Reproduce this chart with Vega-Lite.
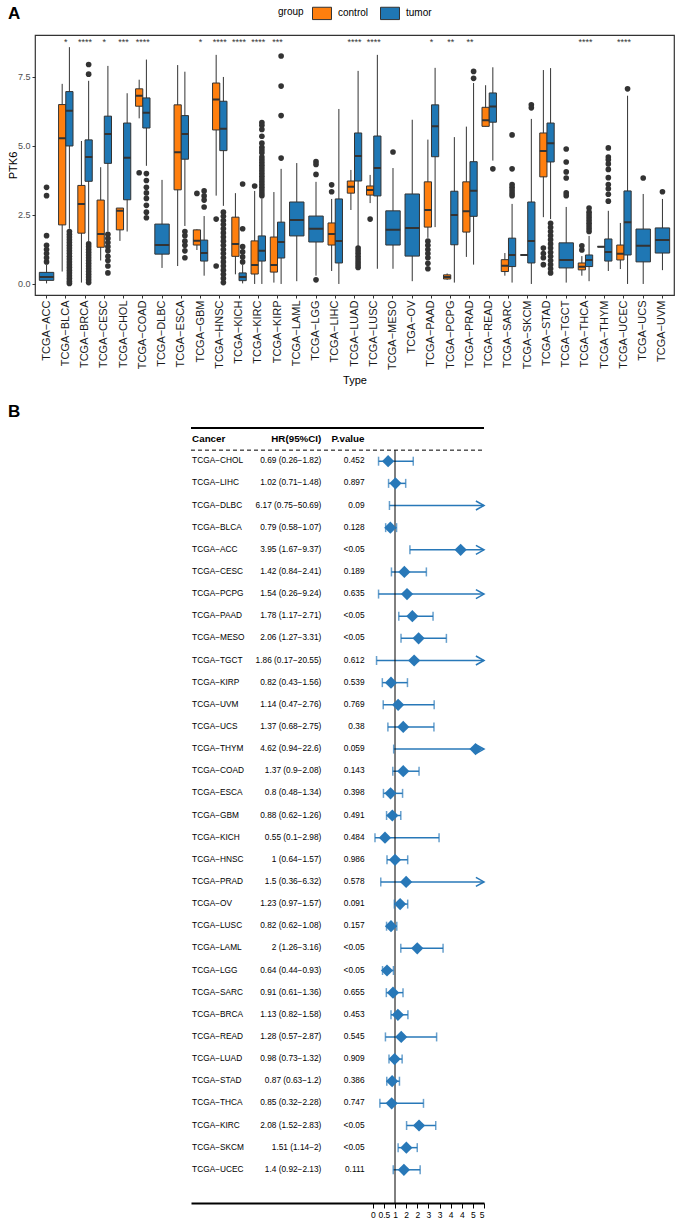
{
  "$schema": "https://vega.github.io/schema/vega-lite/v6.json",
  "padding": {"left": 6, "top": 3, "right": 0, "bottom": 0},
  "spacing": 16,
  "config": {
    "font": "Liberation Sans",
    "view": {"stroke": null},
    "axis": {"grid": false}
  },
  "datasets": {
    "boxes": [
      {"type":"TCGA−ACC","group":"tumor","lo":0.02,"q1":0.13,"med":0.25,"q3":0.42,"hi":0.7},
      {"type":"TCGA−BLCA","group":"control","lo":0.45,"q1":2.14,"med":5.28,"q3":6.5,"hi":7.25},
      {"type":"TCGA−BLCA","group":"tumor","lo":2.0,"q1":5.0,"med":6.28,"q3":6.97,"hi":8.58},
      {"type":"TCGA−BRCA","group":"control","lo":0.05,"q1":1.84,"med":2.9,"q3":3.57,"hi":5.18},
      {"type":"TCGA−BRCA","group":"tumor","lo":1.55,"q1":3.72,"med":4.6,"q3":5.22,"hi":7.36},
      {"type":"TCGA−CESC","group":"control","lo":0.85,"q1":1.33,"med":1.81,"q3":3.04,"hi":4.23},
      {"type":"TCGA−CESC","group":"tumor","lo":1.9,"q1":4.37,"med":5.43,"q3":6.08,"hi":7.9},
      {"type":"TCGA−CHOL","group":"control","lo":1.56,"q1":1.96,"med":2.65,"q3":2.75,"hi":2.75},
      {"type":"TCGA−CHOL","group":"tumor","lo":1.9,"q1":3.05,"med":4.57,"q3":5.83,"hi":6.91},
      {"type":"TCGA−COAD","group":"control","lo":6.0,"q1":6.44,"med":6.82,"q3":7.07,"hi":7.4},
      {"type":"TCGA−COAD","group":"tumor","lo":4.28,"q1":5.65,"med":6.2,"q3":6.74,"hi":8.13},
      {"type":"TCGA−DLBC","group":"tumor","lo":0.58,"q1":1.08,"med":1.41,"q3":2.17,"hi":3.77},
      {"type":"TCGA−ESCA","group":"control","lo":0.65,"q1":3.41,"med":4.77,"q3":6.49,"hi":7.93},
      {"type":"TCGA−ESCA","group":"tumor","lo":2.1,"q1":4.52,"med":5.43,"q3":6.1,"hi":7.69},
      {"type":"TCGA−GBM","group":"control","lo":1.23,"q1":1.41,"med":1.57,"q3":1.96,"hi":1.98},
      {"type":"TCGA−GBM","group":"tumor","lo":0.3,"q1":0.83,"med":1.12,"q3":1.59,"hi":2.46},
      {"type":"TCGA−HNSC","group":"control","lo":3.2,"q1":5.58,"med":6.68,"q3":7.28,"hi":8.3},
      {"type":"TCGA−HNSC","group":"tumor","lo":2.83,"q1":4.83,"med":5.62,"q3":6.62,"hi":7.5},
      {"type":"TCGA−KICH","group":"control","lo":0.35,"q1":1.0,"med":1.45,"q3":2.42,"hi":3.29},
      {"type":"TCGA−KICH","group":"tumor","lo":0.02,"q1":0.12,"med":0.25,"q3":0.4,"hi":0.7},
      {"type":"TCGA−KIRC","group":"control","lo":0.0,"q1":0.36,"med":0.69,"q3":1.56,"hi":3.37},
      {"type":"TCGA−KIRC","group":"tumor","lo":0.0,"q1":0.83,"med":1.2,"q3":1.74,"hi":3.1},
      {"type":"TCGA−KIRP","group":"control","lo":0.05,"q1":0.43,"med":0.69,"q3":1.7,"hi":3.33},
      {"type":"TCGA−KIRP","group":"tumor","lo":0.0,"q1":0.94,"med":1.52,"q3":2.24,"hi":4.17},
      {"type":"TCGA−LAML","group":"tumor","lo":0.1,"q1":1.74,"med":2.32,"q3":2.97,"hi":4.38},
      {"type":"TCGA−LGG","group":"tumor","lo":0.3,"q1":1.52,"med":2.0,"q3":2.46,"hi":3.7},
      {"type":"TCGA−LIHC","group":"control","lo":0.47,"q1":1.41,"med":1.81,"q3":2.21,"hi":3.08},
      {"type":"TCGA−LIHC","group":"tumor","lo":0.0,"q1":0.76,"med":1.56,"q3":3.08,"hi":6.34},
      {"type":"TCGA−LUAD","group":"control","lo":2.68,"q1":3.29,"med":3.52,"q3":3.73,"hi":4.13},
      {"type":"TCGA−LUAD","group":"tumor","lo":1.35,"q1":3.73,"med":4.64,"q3":5.47,"hi":7.72},
      {"type":"TCGA−LUSC","group":"control","lo":2.93,"q1":3.22,"med":3.4,"q3":3.55,"hi":3.95},
      {"type":"TCGA−LUSC","group":"tumor","lo":0.55,"q1":3.19,"med":4.2,"q3":5.36,"hi":8.3},
      {"type":"TCGA−MESO","group":"tumor","lo":0.55,"q1":1.41,"med":1.96,"q3":2.65,"hi":4.2},
      {"type":"TCGA−OV","group":"tumor","lo":0.1,"q1":1.01,"med":2.03,"q3":3.26,"hi":5.95},
      {"type":"TCGA−PAAD","group":"control","lo":1.67,"q1":2.06,"med":2.68,"q3":3.7,"hi":5.23},
      {"type":"TCGA−PAAD","group":"tumor","lo":2.06,"q1":4.61,"med":5.71,"q3":6.49,"hi":7.83},
      {"type":"TCGA−PCPG","group":"control","lo":0.15,"q1":0.18,"med":0.25,"q3":0.33,"hi":0.38},
      {"type":"TCGA−PCPG","group":"tumor","lo":0.05,"q1":1.42,"med":2.5,"q3":3.36,"hi":5.32},
      {"type":"TCGA−PRAD","group":"control","lo":0.98,"q1":1.88,"med":2.63,"q3":3.7,"hi":5.7},
      {"type":"TCGA−PRAD","group":"tumor","lo":0.7,"q1":2.45,"med":3.38,"q3":4.43,"hi":7.28},
      {"type":"TCGA−READ","group":"control","lo":5.71,"q1":5.71,"med":5.93,"q3":6.4,"hi":7.2},
      {"type":"TCGA−READ","group":"tumor","lo":4.47,"q1":5.86,"med":6.43,"q3":6.92,"hi":7.85},
      {"type":"TCGA−SARC","group":"control","lo":0.3,"q1":0.45,"med":0.66,"q3":0.88,"hi":1.12},
      {"type":"TCGA−SARC","group":"tumor","lo":0.05,"q1":0.63,"med":1.05,"q3":1.66,"hi":2.9},
      {"type":"TCGA−SKCM","group":"control","lo":1.05,"q1":1.05,"med":1.05,"q3":1.05,"hi":1.05},
      {"type":"TCGA−SKCM","group":"tumor","lo":0.0,"q1":0.76,"med":1.56,"q3":2.97,"hi":5.98},
      {"type":"TCGA−STAD","group":"control","lo":2.42,"q1":3.88,"med":4.82,"q3":5.47,"hi":7.75},
      {"type":"TCGA−STAD","group":"tumor","lo":2.35,"q1":4.42,"med":5.1,"q3":5.83,"hi":7.82},
      {"type":"TCGA−TGCT","group":"tumor","lo":0.05,"q1":0.58,"med":0.87,"q3":1.49,"hi":2.79},
      {"type":"TCGA−THCA","group":"control","lo":0.3,"q1":0.51,"med":0.62,"q3":0.76,"hi":1.01},
      {"type":"TCGA−THCA","group":"tumor","lo":0.1,"q1":0.63,"med":0.87,"q3":1.05,"hi":1.74},
      {"type":"TCGA−THYM","group":"control","lo":1.35,"q1":1.35,"med":1.35,"q3":1.35,"hi":1.35},
      {"type":"TCGA−THYM","group":"tumor","lo":0.47,"q1":0.83,"med":1.16,"q3":1.63,"hi":2.65},
      {"type":"TCGA−UCEC","group":"control","lo":0.54,"q1":0.87,"med":1.09,"q3":1.41,"hi":2.21},
      {"type":"TCGA−UCEC","group":"tumor","lo":0.0,"q1":1.05,"med":2.24,"q3":3.37,"hi":6.82},
      {"type":"TCGA−UCS","group":"tumor","lo":0.0,"q1":0.8,"med":1.38,"q3":1.99,"hi":3.26},
      {"type":"TCGA−UVM","group":"tumor","lo":0.5,"q1":1.12,"med":1.59,"q3":2.03,"hi":3.08}
    ],
    "outliers": [
      {"type":"TCGA−ACC","group":"tumor","v":3.5},{"type":"TCGA−ACC","group":"tumor","v":3.2},{"type":"TCGA−ACC","group":"tumor","v":1.75},{"type":"TCGA−ACC","group":"tumor","v":1.4},{"type":"TCGA−ACC","group":"tumor","v":1.25},{"type":"TCGA−ACC","group":"tumor","v":1.1},{"type":"TCGA−ACC","group":"tumor","v":0.95},{"type":"TCGA−ACC","group":"tumor","v":0.8},
      {"type":"TCGA−BLCA","group":"tumor","v":1.9},{"type":"TCGA−BLCA","group":"tumor","v":1.8},{"type":"TCGA−BLCA","group":"tumor","v":1.7},{"type":"TCGA−BLCA","group":"tumor","v":1.6},{"type":"TCGA−BLCA","group":"tumor","v":1.5},{"type":"TCGA−BLCA","group":"tumor","v":1.4},{"type":"TCGA−BLCA","group":"tumor","v":1.3},{"type":"TCGA−BLCA","group":"tumor","v":1.2},{"type":"TCGA−BLCA","group":"tumor","v":1.1},{"type":"TCGA−BLCA","group":"tumor","v":1.0},{"type":"TCGA−BLCA","group":"tumor","v":0.9},{"type":"TCGA−BLCA","group":"tumor","v":0.8},{"type":"TCGA−BLCA","group":"tumor","v":0.7},{"type":"TCGA−BLCA","group":"tumor","v":0.6},{"type":"TCGA−BLCA","group":"tumor","v":0.5},{"type":"TCGA−BLCA","group":"tumor","v":0.4},{"type":"TCGA−BLCA","group":"tumor","v":0.3},{"type":"TCGA−BLCA","group":"tumor","v":0.2},{"type":"TCGA−BLCA","group":"tumor","v":0.1},{"type":"TCGA−BLCA","group":"tumor","v":0.02},
      {"type":"TCGA−BRCA","group":"tumor","v":7.95},{"type":"TCGA−BRCA","group":"tumor","v":7.6},{"type":"TCGA−BRCA","group":"tumor","v":1.45},{"type":"TCGA−BRCA","group":"tumor","v":1.35},{"type":"TCGA−BRCA","group":"tumor","v":1.25},{"type":"TCGA−BRCA","group":"tumor","v":1.15},{"type":"TCGA−BRCA","group":"tumor","v":1.05},{"type":"TCGA−BRCA","group":"tumor","v":0.95},{"type":"TCGA−BRCA","group":"tumor","v":0.85},{"type":"TCGA−BRCA","group":"tumor","v":0.75},{"type":"TCGA−BRCA","group":"tumor","v":0.65},{"type":"TCGA−BRCA","group":"tumor","v":0.55},{"type":"TCGA−BRCA","group":"tumor","v":0.45},{"type":"TCGA−BRCA","group":"tumor","v":0.35},{"type":"TCGA−BRCA","group":"tumor","v":0.25},{"type":"TCGA−BRCA","group":"tumor","v":0.15},{"type":"TCGA−BRCA","group":"tumor","v":0.05},
      {"type":"TCGA−CESC","group":"tumor","v":1.8},{"type":"TCGA−CESC","group":"tumor","v":1.65},{"type":"TCGA−CESC","group":"tumor","v":1.5},{"type":"TCGA−CESC","group":"tumor","v":1.35},{"type":"TCGA−CESC","group":"tumor","v":1.2},{"type":"TCGA−CESC","group":"tumor","v":1.0},{"type":"TCGA−CESC","group":"tumor","v":0.85},{"type":"TCGA−CESC","group":"tumor","v":0.65},{"type":"TCGA−CESC","group":"tumor","v":0.4},
      {"type":"TCGA−COAD","group":"control","v":4.03},
      {"type":"TCGA−COAD","group":"tumor","v":4.0},{"type":"TCGA−COAD","group":"tumor","v":3.75},{"type":"TCGA−COAD","group":"tumor","v":3.5},{"type":"TCGA−COAD","group":"tumor","v":3.3},{"type":"TCGA−COAD","group":"tumor","v":3.1},{"type":"TCGA−COAD","group":"tumor","v":2.85},{"type":"TCGA−COAD","group":"tumor","v":2.6},{"type":"TCGA−COAD","group":"tumor","v":2.4},
      {"type":"TCGA−ESCA","group":"tumor","v":1.9},{"type":"TCGA−ESCA","group":"tumor","v":1.75},{"type":"TCGA−ESCA","group":"tumor","v":1.55},{"type":"TCGA−ESCA","group":"tumor","v":1.4},{"type":"TCGA−ESCA","group":"tumor","v":1.2},{"type":"TCGA−ESCA","group":"tumor","v":0.95},
      {"type":"TCGA−GBM","group":"control","v":3.28},
      {"type":"TCGA−GBM","group":"tumor","v":3.37},{"type":"TCGA−GBM","group":"tumor","v":3.19},{"type":"TCGA−GBM","group":"tumor","v":3.04},{"type":"TCGA−GBM","group":"tumor","v":2.79},
      {"type":"TCGA−HNSC","group":"control","v":2.35},{"type":"TCGA−HNSC","group":"control","v":0.65},
      {"type":"TCGA−HNSC","group":"tumor","v":2.6},{"type":"TCGA−HNSC","group":"tumor","v":2.45},{"type":"TCGA−HNSC","group":"tumor","v":2.3},{"type":"TCGA−HNSC","group":"tumor","v":2.15},{"type":"TCGA−HNSC","group":"tumor","v":2.0},{"type":"TCGA−HNSC","group":"tumor","v":1.85},{"type":"TCGA−HNSC","group":"tumor","v":1.7},{"type":"TCGA−HNSC","group":"tumor","v":1.55},{"type":"TCGA−HNSC","group":"tumor","v":1.4},{"type":"TCGA−HNSC","group":"tumor","v":1.25},{"type":"TCGA−HNSC","group":"tumor","v":1.1},{"type":"TCGA−HNSC","group":"tumor","v":0.95},{"type":"TCGA−HNSC","group":"tumor","v":0.8},{"type":"TCGA−HNSC","group":"tumor","v":0.65},{"type":"TCGA−HNSC","group":"tumor","v":0.5},{"type":"TCGA−HNSC","group":"tumor","v":0.35},{"type":"TCGA−HNSC","group":"tumor","v":0.2},{"type":"TCGA−HNSC","group":"tumor","v":0.05},
      {"type":"TCGA−KICH","group":"tumor","v":3.62},{"type":"TCGA−KICH","group":"tumor","v":2.0},{"type":"TCGA−KICH","group":"tumor","v":1.35},{"type":"TCGA−KICH","group":"tumor","v":1.16},{"type":"TCGA−KICH","group":"tumor","v":0.98},{"type":"TCGA−KICH","group":"tumor","v":0.8},
      {"type":"TCGA−KIRC","group":"control","v":3.55},
      {"type":"TCGA−KIRC","group":"tumor","v":5.85},{"type":"TCGA−KIRC","group":"tumor","v":5.75},{"type":"TCGA−KIRC","group":"tumor","v":5.6},{"type":"TCGA−KIRC","group":"tumor","v":5.35},{"type":"TCGA−KIRC","group":"tumor","v":5.1},{"type":"TCGA−KIRC","group":"tumor","v":4.95},{"type":"TCGA−KIRC","group":"tumor","v":4.85},{"type":"TCGA−KIRC","group":"tumor","v":4.75},{"type":"TCGA−KIRC","group":"tumor","v":4.6},{"type":"TCGA−KIRC","group":"tumor","v":4.5},{"type":"TCGA−KIRC","group":"tumor","v":4.4},{"type":"TCGA−KIRC","group":"tumor","v":4.3},{"type":"TCGA−KIRC","group":"tumor","v":4.2},{"type":"TCGA−KIRC","group":"tumor","v":4.1},{"type":"TCGA−KIRC","group":"tumor","v":4.0},{"type":"TCGA−KIRC","group":"tumor","v":3.9},{"type":"TCGA−KIRC","group":"tumor","v":3.8},{"type":"TCGA−KIRC","group":"tumor","v":3.7},{"type":"TCGA−KIRC","group":"tumor","v":3.6},{"type":"TCGA−KIRC","group":"tumor","v":3.5},{"type":"TCGA−KIRC","group":"tumor","v":3.4},{"type":"TCGA−KIRC","group":"tumor","v":3.3},{"type":"TCGA−KIRC","group":"tumor","v":3.2},
      {"type":"TCGA−KIRP","group":"tumor","v":8.26},{"type":"TCGA−KIRP","group":"tumor","v":7.17},{"type":"TCGA−KIRP","group":"tumor","v":6.1},{"type":"TCGA−KIRP","group":"tumor","v":4.56},
      {"type":"TCGA−LGG","group":"tumor","v":4.43},{"type":"TCGA−LGG","group":"tumor","v":4.33},{"type":"TCGA−LGG","group":"tumor","v":3.97},{"type":"TCGA−LGG","group":"tumor","v":0.15},
      {"type":"TCGA−LIHC","group":"control","v":3.59},{"type":"TCGA−LIHC","group":"control","v":3.34},
      {"type":"TCGA−LUAD","group":"tumor","v":1.3},{"type":"TCGA−LUAD","group":"tumor","v":1.2},{"type":"TCGA−LUAD","group":"tumor","v":1.1},{"type":"TCGA−LUAD","group":"tumor","v":1.0},{"type":"TCGA−LUAD","group":"tumor","v":0.9},{"type":"TCGA−LUAD","group":"tumor","v":0.8},{"type":"TCGA−LUAD","group":"tumor","v":0.7},{"type":"TCGA−LUAD","group":"tumor","v":0.6},
      {"type":"TCGA−LUSC","group":"control","v":2.35},
      {"type":"TCGA−MESO","group":"tumor","v":4.78},
      {"type":"TCGA−PAAD","group":"control","v":1.55},{"type":"TCGA−PAAD","group":"control","v":1.4},{"type":"TCGA−PAAD","group":"control","v":1.25},{"type":"TCGA−PAAD","group":"control","v":1.1},{"type":"TCGA−PAAD","group":"control","v":0.95},{"type":"TCGA−PAAD","group":"control","v":0.75},{"type":"TCGA−PAAD","group":"control","v":0.55},
      {"type":"TCGA−PRAD","group":"tumor","v":7.7},{"type":"TCGA−PRAD","group":"tumor","v":7.45},
      {"type":"TCGA−READ","group":"tumor","v":4.17},
      {"type":"TCGA−SARC","group":"tumor","v":5.4},{"type":"TCGA−SARC","group":"tumor","v":4.17},{"type":"TCGA−SARC","group":"tumor","v":3.6},{"type":"TCGA−SARC","group":"tumor","v":3.5},{"type":"TCGA−SARC","group":"tumor","v":3.4},{"type":"TCGA−SARC","group":"tumor","v":3.3},{"type":"TCGA−SARC","group":"tumor","v":3.2},
      {"type":"TCGA−SKCM","group":"tumor","v":6.49},{"type":"TCGA−SKCM","group":"tumor","v":6.38},
      {"type":"TCGA−STAD","group":"control","v":1.3},{"type":"TCGA−STAD","group":"control","v":1.1},{"type":"TCGA−STAD","group":"control","v":0.95},{"type":"TCGA−STAD","group":"control","v":0.7},
      {"type":"TCGA−STAD","group":"tumor","v":2.2},{"type":"TCGA−STAD","group":"tumor","v":2.05},{"type":"TCGA−STAD","group":"tumor","v":1.9},{"type":"TCGA−STAD","group":"tumor","v":1.75},{"type":"TCGA−STAD","group":"tumor","v":1.6},{"type":"TCGA−STAD","group":"tumor","v":1.45},{"type":"TCGA−STAD","group":"tumor","v":1.3},{"type":"TCGA−STAD","group":"tumor","v":1.15},{"type":"TCGA−STAD","group":"tumor","v":1.0},{"type":"TCGA−STAD","group":"tumor","v":0.85},{"type":"TCGA−STAD","group":"tumor","v":0.7},{"type":"TCGA−STAD","group":"tumor","v":0.55},{"type":"TCGA−STAD","group":"tumor","v":0.4},
      {"type":"TCGA−TGCT","group":"tumor","v":4.89},{"type":"TCGA−TGCT","group":"tumor","v":4.42},{"type":"TCGA−TGCT","group":"tumor","v":4.06},{"type":"TCGA−TGCT","group":"tumor","v":3.84},{"type":"TCGA−TGCT","group":"tumor","v":3.3},{"type":"TCGA−TGCT","group":"tumor","v":3.2},
      {"type":"TCGA−THCA","group":"control","v":1.38},{"type":"TCGA−THCA","group":"control","v":1.23},
      {"type":"TCGA−THCA","group":"tumor","v":2.75},{"type":"TCGA−THCA","group":"tumor","v":2.6},{"type":"TCGA−THCA","group":"tumor","v":2.5},{"type":"TCGA−THCA","group":"tumor","v":2.4},{"type":"TCGA−THCA","group":"tumor","v":2.3},{"type":"TCGA−THCA","group":"tumor","v":2.2},{"type":"TCGA−THCA","group":"tumor","v":2.1},{"type":"TCGA−THCA","group":"tumor","v":2.0},{"type":"TCGA−THCA","group":"tumor","v":1.9},
      {"type":"TCGA−THYM","group":"tumor","v":4.93},{"type":"TCGA−THYM","group":"tumor","v":4.6},{"type":"TCGA−THYM","group":"tumor","v":4.5},{"type":"TCGA−THYM","group":"tumor","v":4.35},{"type":"TCGA−THYM","group":"tumor","v":4.15},{"type":"TCGA−THYM","group":"tumor","v":3.85},{"type":"TCGA−THYM","group":"tumor","v":3.6},{"type":"TCGA−THYM","group":"tumor","v":3.45},{"type":"TCGA−THYM","group":"tumor","v":3.25},{"type":"TCGA−THYM","group":"tumor","v":3.0},
      {"type":"TCGA−UCEC","group":"tumor","v":7.07},
      {"type":"TCGA−UCS","group":"tumor","v":3.84},
      {"type":"TCGA−UVM","group":"tumor","v":3.34}
    ],
    "stars": [
      {"type":"TCGA−BLCA","sig":"*"},{"type":"TCGA−BRCA","sig":"****"},{"type":"TCGA−CESC","sig":"*"},{"type":"TCGA−CHOL","sig":"***"},{"type":"TCGA−COAD","sig":"****"},{"type":"TCGA−GBM","sig":"*"},{"type":"TCGA−HNSC","sig":"****"},{"type":"TCGA−KICH","sig":"****"},{"type":"TCGA−KIRC","sig":"****"},{"type":"TCGA−KIRP","sig":"***"},{"type":"TCGA−LUAD","sig":"****"},{"type":"TCGA−LUSC","sig":"****"},{"type":"TCGA−PAAD","sig":"*"},{"type":"TCGA−PCPG","sig":"**"},{"type":"TCGA−PRAD","sig":"**"},{"type":"TCGA−THCA","sig":"****"},{"type":"TCGA−UCEC","sig":"****"}
    ],
    "forest": [
      {"cancer":"TCGA−CHOL","hr":0.69,"lo":0.26,"hi":1.82,"ci":"0.69 (0.26−1.82)","p":"0.452"},
      {"cancer":"TCGA−LIHC","hr":1.02,"lo":0.71,"hi":1.48,"ci":"1.02 (0.71−1.48)","p":"0.897"},
      {"cancer":"TCGA−DLBC","hr":6.17,"lo":0.75,"hi":50.69,"ci":"6.17 (0.75−50.69)","p":"0.09"},
      {"cancer":"TCGA−BLCA","hr":0.79,"lo":0.58,"hi":1.07,"ci":"0.79 (0.58−1.07)","p":"0.128"},
      {"cancer":"TCGA−ACC","hr":3.95,"lo":1.67,"hi":9.37,"ci":"3.95 (1.67−9.37)","p":"<0.05"},
      {"cancer":"TCGA−CESC","hr":1.42,"lo":0.84,"hi":2.41,"ci":"1.42 (0.84−2.41)","p":"0.189"},
      {"cancer":"TCGA−PCPG","hr":1.54,"lo":0.26,"hi":9.24,"ci":"1.54 (0.26−9.24)","p":"0.635"},
      {"cancer":"TCGA−PAAD","hr":1.78,"lo":1.17,"hi":2.71,"ci":"1.78 (1.17−2.71)","p":"<0.05"},
      {"cancer":"TCGA−MESO","hr":2.06,"lo":1.27,"hi":3.31,"ci":"2.06 (1.27−3.31)","p":"<0.05"},
      {"cancer":"TCGA−TGCT","hr":1.86,"lo":0.17,"hi":20.55,"ci":"1.86 (0.17−20.55)","p":"0.612"},
      {"cancer":"TCGA−KIRP","hr":0.82,"lo":0.43,"hi":1.56,"ci":"0.82 (0.43−1.56)","p":"0.539"},
      {"cancer":"TCGA−UVM","hr":1.14,"lo":0.47,"hi":2.76,"ci":"1.14 (0.47−2.76)","p":"0.769"},
      {"cancer":"TCGA−UCS","hr":1.37,"lo":0.68,"hi":2.75,"ci":"1.37 (0.68−2.75)","p":"0.38"},
      {"cancer":"TCGA−THYM","hr":4.62,"lo":0.94,"hi":22.6,"ci":"4.62 (0.94−22.6)","p":"0.059"},
      {"cancer":"TCGA−COAD","hr":1.37,"lo":0.9,"hi":2.08,"ci":"1.37 (0.9−2.08)","p":"0.143"},
      {"cancer":"TCGA−ESCA","hr":0.8,"lo":0.48,"hi":1.34,"ci":"0.8 (0.48−1.34)","p":"0.398"},
      {"cancer":"TCGA−GBM","hr":0.88,"lo":0.62,"hi":1.26,"ci":"0.88 (0.62−1.26)","p":"0.491"},
      {"cancer":"TCGA−KICH","hr":0.55,"lo":0.1,"hi":2.98,"ci":"0.55 (0.1−2.98)","p":"0.484"},
      {"cancer":"TCGA−HNSC","hr":1.0,"lo":0.64,"hi":1.57,"ci":"1 (0.64−1.57)","p":"0.986"},
      {"cancer":"TCGA−PRAD","hr":1.5,"lo":0.36,"hi":6.32,"ci":"1.5 (0.36−6.32)","p":"0.578"},
      {"cancer":"TCGA−OV","hr":1.23,"lo":0.97,"hi":1.57,"ci":"1.23 (0.97−1.57)","p":"0.091"},
      {"cancer":"TCGA−LUSC","hr":0.82,"lo":0.62,"hi":1.08,"ci":"0.82 (0.62−1.08)","p":"0.157"},
      {"cancer":"TCGA−LAML","hr":2.0,"lo":1.26,"hi":3.16,"ci":"2 (1.26−3.16)","p":"<0.05"},
      {"cancer":"TCGA−LGG","hr":0.64,"lo":0.44,"hi":0.93,"ci":"0.64 (0.44−0.93)","p":"<0.05"},
      {"cancer":"TCGA−SARC","hr":0.91,"lo":0.61,"hi":1.36,"ci":"0.91 (0.61−1.36)","p":"0.655"},
      {"cancer":"TCGA−BRCA","hr":1.13,"lo":0.82,"hi":1.58,"ci":"1.13 (0.82−1.58)","p":"0.453"},
      {"cancer":"TCGA−READ","hr":1.28,"lo":0.57,"hi":2.87,"ci":"1.28 (0.57−2.87)","p":"0.545"},
      {"cancer":"TCGA−LUAD","hr":0.98,"lo":0.73,"hi":1.32,"ci":"0.98 (0.73−1.32)","p":"0.909"},
      {"cancer":"TCGA−STAD","hr":0.87,"lo":0.63,"hi":1.2,"ci":"0.87 (0.63−1.2)","p":"0.386"},
      {"cancer":"TCGA−THCA","hr":0.85,"lo":0.32,"hi":2.28,"ci":"0.85 (0.32−2.28)","p":"0.747"},
      {"cancer":"TCGA−KIRC","hr":2.08,"lo":1.52,"hi":2.83,"ci":"2.08 (1.52−2.83)","p":"<0.05"},
      {"cancer":"TCGA−SKCM","hr":1.51,"lo":1.14,"hi":2.0,"ci":"1.51 (1.14−2)","p":"<0.05"},
      {"cancer":"TCGA−UCEC","hr":1.4,"lo":0.92,"hi":2.13,"ci":"1.4 (0.92−2.13)","p":"0.111"}
    ],
    "header": [{"c":"Cancer","h":"HR(95%CI)","p":"P.value"}]
  },
  "vconcat": [
    {
      "width": 639,
      "height": 260,
      "title": {"text": "A", "anchor": "start", "frame": "group", "dx": -27, "offset": -4.5, "fontSize": 17, "fontWeight": "bold", "baseline": "bottom", "color": "black"},
      "view": {"stroke": "#333333", "strokeWidth": 1.2},
      "encoding": {
        "x": {
          "field": "type", "type": "nominal", "title": "Type",
          "scale": {"domain": ["TCGA−ACC","TCGA−BLCA","TCGA−BRCA","TCGA−CESC","TCGA−CHOL","TCGA−COAD","TCGA−DLBC","TCGA−ESCA","TCGA−GBM","TCGA−HNSC","TCGA−KICH","TCGA−KIRC","TCGA−KIRP","TCGA−LAML","TCGA−LGG","TCGA−LIHC","TCGA−LUAD","TCGA−LUSC","TCGA−MESO","TCGA−OV","TCGA−PAAD","TCGA−PCPG","TCGA−PRAD","TCGA−READ","TCGA−SARC","TCGA−SKCM","TCGA−STAD","TCGA−TGCT","TCGA−THCA","TCGA−THYM","TCGA−UCEC","TCGA−UCS","TCGA−UVM"], "paddingInner": 0.25, "paddingOuter": 0.225},
          "axis": {"labelAngle": 270, "labelFontSize": 11, "labelColor": "#1a1a1a", "tickSize": 3, "tickColor": "#333333", "domain": false, "titleFontSize": 11, "titleFontWeight": "normal", "titleColor": "black", "titlePadding": 5, "labelPadding": 2}
        }
      },
      "layer": [
        {
          "data": {"name": "boxes"},
          "transform": [{"filter": {"not": {"field": "type", "oneOf": ["TCGA−ACC","TCGA−DLBC","TCGA−LAML","TCGA−LGG","TCGA−MESO","TCGA−OV","TCGA−TGCT","TCGA−UCS","TCGA−UVM"]}}}],
          "encoding": {"xOffset": {"field": "group", "type": "nominal", "scale": {"domain": ["control","tumor"], "paddingInner": 0, "paddingOuter": 0}}},
          "layer": [
            {"mark": {"type": "rule", "color": "#333333", "strokeWidth": 1},
             "encoding": {"y": {"field": "lo", "type": "quantitative", "title": "PTK6", "scale": {"domain": [-0.4, 9.02], "nice": false, "zero": false},
               "axis": {"values": [0, 2.5, 5, 7.5], "format": ".1f", "tickSize": 3, "tickColor": "#333333", "domain": false, "labelFontSize": 9, "labelColor": "#4d4d4d", "titleFontSize": 11, "titleFontWeight": "normal", "titleColor": "black", "titlePadding": -1}},
               "y2": {"field": "hi"}}},
            {"mark": {"type": "bar", "stroke": "#333333", "strokeWidth": 1},
             "encoding": {"y": {"field": "q1", "type": "quantitative", "title": "PTK6"}, "y2": {"field": "q3"},
               "color": {"field": "group", "type": "nominal", "scale": {"domain": ["control","tumor"], "range": ["#FF7F0E","#1F77B4"]},
                 "legend": {"title": "group", "orient": "none", "legendX": 243, "legendY": -32, "direction": "horizontal", "titleOrient": "left", "titleFontSize": 10, "titleFontWeight": "normal", "titleColor": "black", "labelFontSize": 10, "labelColor": "black", "symbolType": "M-1,-0.65H1V0.65H-1Z", "symbolSize": 360, "symbolStrokeColor": "#333333", "symbolStrokeWidth": 1, "symbolOpacity": 1, "columnPadding": 9, "labelOffset": 6, "titlePadding": 8}}}},
            {"mark": {"type": "bar", "stroke": "#333333", "strokeWidth": 2, "fillOpacity": 0},
             "encoding": {"y": {"field": "med", "type": "quantitative", "title": "PTK6"}, "y2": {"field": "med"}}}
          ]
        },
        {
          "data": {"name": "boxes"},
          "transform": [{"filter": {"field": "type", "oneOf": ["TCGA−ACC","TCGA−DLBC","TCGA−LAML","TCGA−LGG","TCGA−MESO","TCGA−OV","TCGA−TGCT","TCGA−UCS","TCGA−UVM"]}}],
          "layer": [
            {"mark": {"type": "rule", "color": "#333333", "strokeWidth": 1},
             "encoding": {"y": {"field": "lo", "type": "quantitative", "title": "PTK6"}, "y2": {"field": "hi"}}},
            {"mark": {"type": "bar", "stroke": "#333333", "strokeWidth": 1},
             "encoding": {"y": {"field": "q1", "type": "quantitative", "title": "PTK6"}, "y2": {"field": "q3"},
               "color": {"field": "group", "type": "nominal"}}},
            {"mark": {"type": "bar", "stroke": "#333333", "strokeWidth": 2, "fillOpacity": 0},
             "encoding": {"y": {"field": "med", "type": "quantitative", "title": "PTK6"}, "y2": {"field": "med"}}}
          ]
        },
        {
          "data": {"name": "outliers"},
          "transform": [{"filter": {"not": {"field": "type", "oneOf": ["TCGA−ACC","TCGA−DLBC","TCGA−LAML","TCGA−LGG","TCGA−MESO","TCGA−OV","TCGA−TGCT","TCGA−UCS","TCGA−UVM"]}}}],
          "mark": {"type": "circle", "color": "#333333", "opacity": 1, "size": 32},
          "encoding": {"xOffset": {"field": "group", "type": "nominal"}, "y": {"field": "v", "type": "quantitative", "title": "PTK6"}}
        },
        {
          "data": {"name": "outliers"},
          "transform": [{"filter": {"field": "type", "oneOf": ["TCGA−ACC","TCGA−DLBC","TCGA−LAML","TCGA−LGG","TCGA−MESO","TCGA−OV","TCGA−TGCT","TCGA−UCS","TCGA−UVM"]}}],
          "mark": {"type": "circle", "color": "#333333", "opacity": 1, "size": 32},
          "encoding": {"y": {"field": "v", "type": "quantitative", "title": "PTK6"}}
        },
        {
          "data": {"name": "stars"},
          "mark": {"type": "text", "fontSize": 9, "color": "#333333", "baseline": "middle"},
          "encoding": {"y": {"datum": 8.77, "type": "quantitative"}, "text": {"field": "sig"}}
        }
      ]
    },
    {
      "width": 449,
      "height": 775,
      "title": {"text": "B", "anchor": "start", "frame": "group", "dx": -27, "offset": -10.5, "fontSize": 17, "fontWeight": "bold", "baseline": "bottom", "color": "black"},
      "view": {"stroke": null},
      "encoding": {
        "y": {"field": "cancer", "type": "nominal", "axis": null,
          "scale": {"type": "band", "paddingInner": 0, "paddingOuter": 0, "domain": ["hdr","TCGA−CHOL","TCGA−LIHC","TCGA−DLBC","TCGA−BLCA","TCGA−ACC","TCGA−CESC","TCGA−PCPG","TCGA−PAAD","TCGA−MESO","TCGA−TGCT","TCGA−KIRP","TCGA−UVM","TCGA−UCS","TCGA−THYM","TCGA−COAD","TCGA−ESCA","TCGA−GBM","TCGA−KICH","TCGA−HNSC","TCGA−PRAD","TCGA−OV","TCGA−LUSC","TCGA−LAML","TCGA−LGG","TCGA−SARC","TCGA−BRCA","TCGA−READ","TCGA−LUAD","TCGA−STAD","TCGA−THCA","TCGA−KIRC","TCGA−SKCM","TCGA−UCEC","end"]}}
      },
      "layer": [
        {
          "data": {"name": "forest"},
          "mark": {"type": "rule", "color": "#2878b8", "strokeWidth": 1.5},
          "encoding": {
            "x": {"field": "lo", "type": "quantitative", "title": null,
              "scale": {"domain": [-8.17, 5], "range": [156, 449], "clamp": true, "nice": false, "zero": false},
              "axis": {"values": [0,0.5,1,1.5,2,2.5,3,3.5,4,4.5,5], "format": "~g", "domain": true, "domainWidth": 2, "domainColor": "black", "tickColor": "black", "tickSize": 5, "tickWidth": 1, "labelFontSize": 8.5, "labelColor": "black", "labelPadding": 2, "grid": false}},
            "x2": {"field": "hi"}
          }
        },
        {
          "data": {"name": "header"},
          "mark": {"type": "rule", "color": "black", "strokeWidth": 2},
          "encoding": {"x": {"datum": -8.17, "type": "quantitative"}, "x2": {"datum": 5}, "y": {"datum": "hdr", "type": "nominal", "bandPosition": 0}}
        },
        {
          "data": {"name": "header"},
          "mark": {"type": "rule", "color": "black", "strokeWidth": 1, "strokeDash": [4, 3]},
          "encoding": {"x": {"datum": -8.17, "type": "quantitative"}, "x2": {"datum": 5}, "y": {"datum": "TCGA−CHOL", "type": "nominal", "bandPosition": 0}}
        },
        {
          "data": {"name": "header"},
          "mark": {"type": "rule", "color": "black", "strokeWidth": 1},
          "encoding": {"x": {"datum": 1, "type": "quantitative"}, "y": {"datum": "TCGA−CHOL", "type": "nominal", "bandPosition": 0}, "y2": {"datum": "end", "bandPosition": 1}}
        },
        {
          "data": {"name": "forest"},
          "mark": {"type": "tick", "orient": "vertical", "color": "#2878b8", "size": 9, "thickness": 1.5},
          "encoding": {"x": {"field": "lo", "type": "quantitative"}}
        },
        {
          "data": {"name": "forest"},
          "transform": [{"filter": "datum.hi <= 5"}],
          "mark": {"type": "tick", "orient": "vertical", "color": "#2878b8", "size": 9, "thickness": 1.5},
          "encoding": {"x": {"field": "hi", "type": "quantitative"}}
        },
        {
          "data": {"name": "forest"},
          "transform": [{"filter": "datum.hi > 5"}],
          "mark": {"type": "point", "shape": "M-1.8,-1L0,0L-1.8,1", "filled": false, "color": "#2878b8", "strokeWidth": 1.5, "size": 81, "opacity": 1},
          "encoding": {"x": {"field": "hi", "type": "quantitative"}}
        },
        {
          "data": {"name": "forest"},
          "transform": [{"filter": "datum.hr <= 5"}],
          "mark": {"type": "point", "shape": "diamond", "filled": true, "color": "#2878b8", "size": 150, "opacity": 1},
          "encoding": {"x": {"field": "hr", "type": "quantitative"}}
        },
        {
          "data": {"name": "forest"},
          "mark": {"type": "text", "align": "left", "baseline": "middle", "fontSize": 8.3, "color": "black"},
          "encoding": {"x": {"datum": -8.12, "type": "quantitative"}, "text": {"field": "cancer"}}
        },
        {
          "data": {"name": "forest"},
          "mark": {"type": "text", "align": "right", "baseline": "middle", "fontSize": 8.3, "color": "black"},
          "encoding": {"x": {"datum": -2.31, "type": "quantitative"}, "text": {"field": "ci"}}
        },
        {
          "data": {"name": "forest"},
          "mark": {"type": "text", "align": "right", "baseline": "middle", "fontSize": 8.3, "color": "black"},
          "encoding": {"x": {"datum": -0.37, "type": "quantitative"}, "text": {"field": "p"}}
        },
        {
          "data": {"name": "header"},
          "mark": {"type": "text", "align": "left", "baseline": "middle", "fontSize": 9.8, "fontWeight": "bold", "color": "black"},
          "encoding": {"x": {"datum": -8.12, "type": "quantitative"}, "y": {"datum": "hdr", "type": "nominal"}, "text": {"field": "c"}}
        },
        {
          "data": {"name": "header"},
          "mark": {"type": "text", "align": "right", "baseline": "middle", "fontSize": 9.8, "fontWeight": "bold", "color": "black"},
          "encoding": {"x": {"datum": -2.31, "type": "quantitative"}, "y": {"datum": "hdr", "type": "nominal"}, "text": {"field": "h"}}
        },
        {
          "data": {"name": "header"},
          "mark": {"type": "text", "align": "right", "baseline": "middle", "fontSize": 9.8, "fontWeight": "bold", "color": "black"},
          "encoding": {"x": {"datum": -0.37, "type": "quantitative"}, "y": {"datum": "hdr", "type": "nominal"}, "text": {"field": "p"}}
        }
      ]
    }
  ]
}
